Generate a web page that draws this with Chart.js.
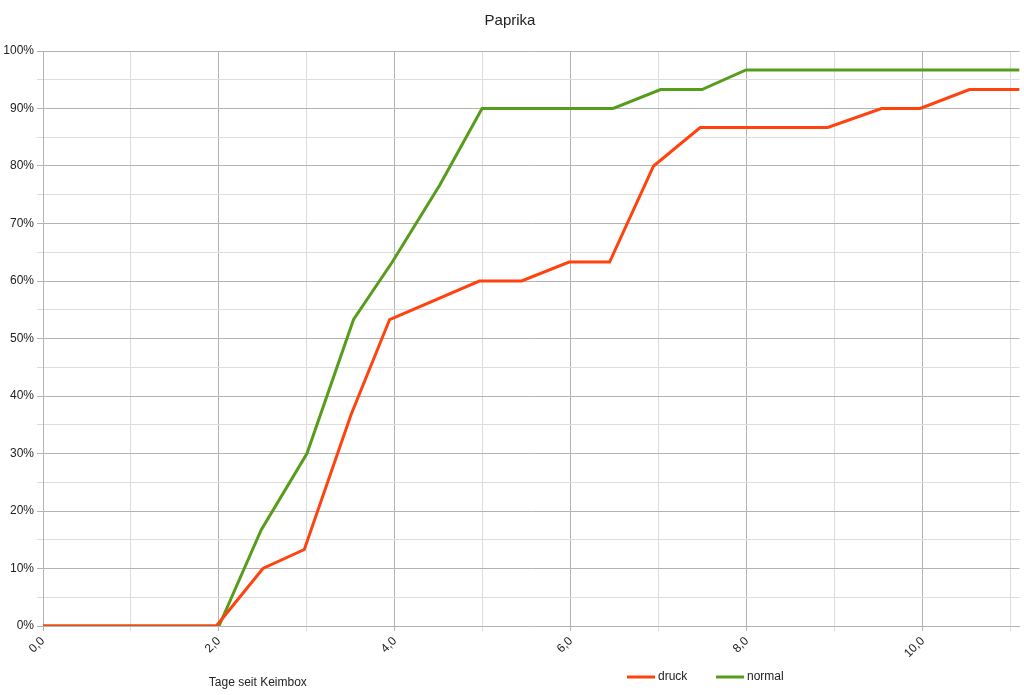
<!DOCTYPE html>
<html>
<head>
<meta charset="utf-8">
<script src="https://cdn.jsdelivr.net/npm/chart.js@4.4.0/dist/chart.umd.min.js"></script>
<style>
  body { margin: 0; background: #fff; }
  #wrap { width: 1024px; height: 695px; }
</style>
</head>
<body>
<div id="wrap"><canvas id="chart" width="1024" height="695"></canvas></div>
<script>
// values (x = Tage, y = %)
const druckX = [0, 1.97, 2.5, 2.97, 3.5, 3.94, 4.96, 5.44, 5.98, 6.44, 6.94, 7.47, 8.92, 9.53, 9.97, 10.53, 11.1];
const druckY = [0, 0, 10, 13.3, 36.7, 53.3, 60, 60, 63.3, 63.3, 80, 86.7, 86.7, 90, 90, 93.3, 93.3];
const normalX = [0, 2.0, 2.48, 3.0, 3.53, 3.97, 4.51, 4.99, 6.48, 7.02, 7.49, 7.99, 11.1];
const normalY = [0, 0, 16.7, 30, 53.3, 63.3, 76.7, 90, 90, 93.3, 93.3, 96.7, 96.7];
const seriesNames = ['druck', 'normal'];
const seriesColors = ['#ff420e', '#579d1c'];
const chartTitle = 'Paprika';
const xTitle = 'Tage seit Keimbox';

const toPoints = (xs, ys) => xs.map((x, i) => ({ x: x, y: ys[i] }));
const font = "'Liberation Sans', Arial, sans-serif";

// axis title and legend share the row under the tick labels
const bottomText = {
    id: 'bottomText',
    afterDraw(chart) {
        const ctx = chart.ctx;
        const a = chart.chartArea;
        const h = chart.height;
        ctx.save();
        ctx.font = '12px ' + font;
        ctx.fillStyle = '#222';
        ctx.textBaseline = 'middle';
        ctx.textAlign = 'center';
        ctx.fillText(xTitle, a.left + (a.right - a.left) * 0.22, h - 12);

        let x = a.left + (a.right - a.left) * 0.598;
        ctx.textAlign = 'left';
        chart.data.datasets.forEach(ds => {
            ctx.strokeStyle = ds.borderColor;
            ctx.lineWidth = 3;
            ctx.beginPath();
            ctx.moveTo(x, h - 18);
            ctx.lineTo(x + 28, h - 18);
            ctx.stroke();
            ctx.fillText(ds.label, x + 31, h - 18);
            x += 89;
        });
        ctx.restore();
    }
};

new Chart(document.getElementById('chart'), {
    type: 'line',
    data: {
        datasets: [
            { label: seriesNames[0], data: toPoints(druckX, druckY), borderColor: seriesColors[0] },
            { label: seriesNames[1], data: toPoints(normalX, normalY), borderColor: seriesColors[1] }
        ]
    },
    options: {
        responsive: false,
        animation: false,
        layout: { padding: { left: 0, right: 4, top: 0, bottom: 0 } },
        elements: {
            point: { radius: 0, hoverRadius: 0 },
            line: { borderWidth: 3, tension: 0, borderJoinStyle: 'miter', borderCapStyle: 'butt' }
        },
        plugins: {
            legend: { display: false },
            tooltip: { enabled: false },
            title: {
                display: true,
                text: chartTitle,
                color: '#222',
                font: { family: font, size: 15, weight: 'normal' },
                padding: { top: 12, bottom: 21 }
            }
        },
        scales: {
            x: {
                type: 'linear',
                min: 0, max: 11.1,
                afterFit: s => { s.height = 69; },
                ticks: {
                    stepSize: 1,
                    includeBounds: false,
                    autoSkip: false,
                    minRotation: 45, maxRotation: 45,
                    color: '#222',
                    font: { family: font, size: 12 },
                    callback: v => (v % 2 === 0 ? v.toFixed(1).replace('.', ',') : '')
                },
                grid: {
                    color: c => (c.tick && c.tick.value % 2 === 0 ? '#b3b3b3' : '#dddddd'),
                    tickLength: 5,
                    lineWidth: 1
                },
                border: { color: '#b3b3b3' }
            },
            y: {
                min: 0, max: 100,
                afterFit: s => { s.width = 43; },
                ticks: {
                    stepSize: 5,
                    color: '#222',
                    font: { family: font, size: 12 },
                    callback: v => (v % 10 === 0 ? v + '%' : '')
                },
                grid: {
                    color: c => (c.tick && c.tick.value % 10 === 0 ? '#b3b3b3' : '#dddddd'),
                    tickLength: 6,
                    lineWidth: 1
                },
                border: { color: '#b3b3b3' }
            }
        }
    },
    plugins: [bottomText]
});
</script>
</body>
</html>
